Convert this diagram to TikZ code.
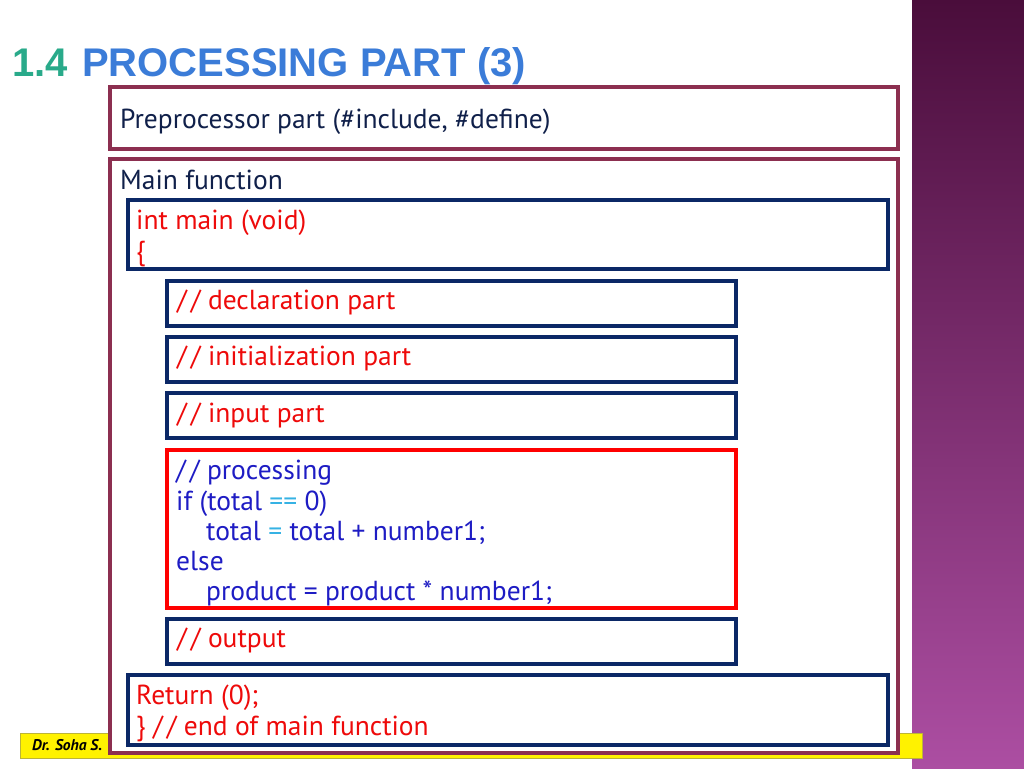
\documentclass[tikz,border=0pt]{standalone}
\usepackage{fontspec}
\usepackage{xcolor}
\usepackage{tikz}
\setmainfont{PT Sans}
\newfontfamily\titlefont{Liberation Sans}

\definecolor{maroonline}{HTML}{8C2F50}
\definecolor{navyline}{HTML}{0B2866}
\definecolor{navytext}{HTML}{10204A}
\definecolor{codered}{HTML}{EE0A0A}
\definecolor{codeblue}{HTML}{1E1CC4}
\definecolor{codecyan}{HTML}{35B2E4}
\definecolor{titleteal}{HTML}{29AA8A}
\definecolor{titleblue}{HTML}{3B7CD8}
\definecolor{bandtop}{HTML}{4A0D3B}
\definecolor{bandbot}{HTML}{AC4EA2}

\newcommand{\slsl}{/\kern4pt/}

\begin{document}
\begin{tikzpicture}[x=1pt,y=-1pt,
    partbox/.style={draw=maroonline, line width=4pt, fill=white, anchor=north west, inner sep=0pt, outer sep=0pt},
    codebox/.style={draw=navyline, line width=4pt, fill=white, anchor=north west, inner sep=0pt, outer sep=0pt},
    hotbox/.style={draw=red, line width=4pt, fill=white, anchor=north west, inner sep=0pt, outer sep=0pt},
    txt/.style={anchor=base west, inner sep=0pt, font=\fontsize{27.5}{30}\selectfont},
    navytxt/.style={txt, text=navytext},
    redtxt/.style={txt, text=codered},
    bluetxt/.style={txt, text=codeblue}]
    \useasboundingbox (0,0) rectangle (1024,768);

    % side band
    \shade[top color=bandtop, bottom color=bandbot] (912,0) rectangle (1024,768);

    % title
    \node[anchor=base west, inner sep=0pt, text=titleteal, font=\titlefont\bfseries\fontsize{40}{44}\selectfont] (num) at (12,77) {1.4};
    \node[anchor=base west, inner sep=0pt, text=titleblue, font=\titlefont\bfseries\fontsize{40}{44}\selectfont] (title) at (82,77) {PROCESSING PART (3)};

    % footer
    \node[draw=yellow!70!black, fill=yellow, line width=1pt, anchor=north west, inner sep=0pt, outer sep=0pt, minimum width=902pt, minimum height=25pt] (footer) at (20,733) {};
    \node[anchor=base west, inner sep=0pt, font=\bfseries\itshape\fontsize{15.5}{17}\selectfont] (author) at (32,750) {Dr. Soha S.};

    % preprocessor
    \node[partbox, minimum width=788pt, minimum height=62pt] (pre) at (110,87) {};
    \node[navytxt] (pretxt) at (120,128) {Preprocessor part (\#include, \#define)};

    % main function
    \node[partbox, minimum width=788pt, minimum height=594pt] (mainf) at (110,159) {};
    \node[navytxt] (maintxt) at (120,189) {Main function};

    \node[codebox, minimum width=760pt, minimum height=69pt] (head) at (128,200) {};
    \node[redtxt] (head1) at (136,229) {int main (void)};
    \node[redtxt] (head2) at (136,260) {\{};

    \node[codebox, minimum width=569pt, minimum height=45pt] (decl) at (167,281) {};
    \node[redtxt] (decltxt) at (177,309) {\slsl\ declaration part};

    \node[codebox, minimum width=569pt, minimum height=45pt] (init) at (167,337) {};
    \node[redtxt] (inittxt) at (177,365) {\slsl\ initialization part};

    \node[codebox, minimum width=569pt, minimum height=45pt] (input) at (167,393) {};
    \node[redtxt] (inputtxt) at (177,422) {\slsl\ input part};

    \node[hotbox, minimum width=569pt, minimum height=158pt] (proc) at (167,450) {};
    \node[bluetxt] (proc1) at (176,479) {\slsl\ processing};
    \node[bluetxt] (proc2) at (176,510) {if (total \textcolor{codecyan}{==} 0)};
    \node[bluetxt] (proc3) at (206,540) {total \textcolor{codecyan}{=} total + number1;};
    \node[bluetxt] (proc4) at (176,570) {else};
    \node[bluetxt] (proc5) at (206,600) {product = product * number1;};

    \node[codebox, minimum width=569pt, minimum height=45pt] (out) at (167,619) {};
    \node[redtxt] (outtxt) at (177,647) {\slsl\ output};

    \node[codebox, minimum width=760pt, minimum height=70pt] (ret) at (128,675) {};
    \node[redtxt] (ret1) at (136,704) {Return (0);};
    \node[redtxt] (ret2) at (136,735) {\} \slsl\ end of main function};
\end{tikzpicture}
\end{document}
